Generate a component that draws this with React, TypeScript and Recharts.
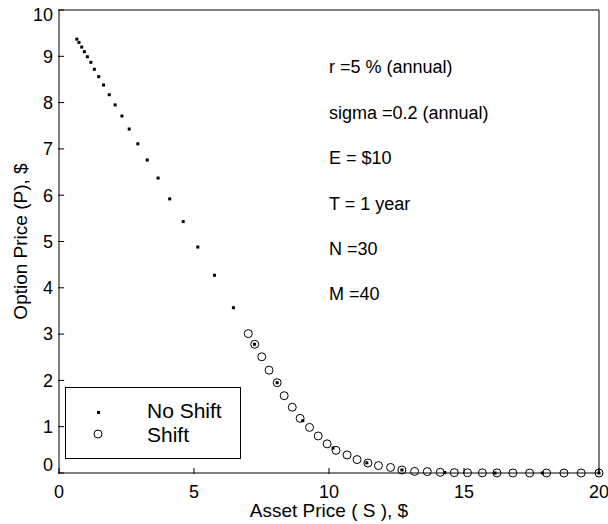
import React from "react";
import {
  Label,
  Legend,
  ReferenceDot,
  ReferenceLine,
  Scatter,
  ScatterChart,
  XAxis,
  YAxis,
} from "recharts";

// grid without shift (log-spaced asset prices)
const noShiftS = [
  0.66, 0.74, 0.84, 0.94, 1.05, 1.18, 1.31, 1.47, 1.65, 1.86, 2.08, 2.33, 2.6,
  2.92, 3.27, 3.67, 4.1, 4.6, 5.14, 5.76, 6.46, 7.24, 8.08, 9.03, 10.15, 11.4,
  12.7, 14.29, 16.15, 17.9, 20.0,
];
const noShiftP = [
  9.37, 9.3, 9.2, 9.1, 8.99, 8.87, 8.72, 8.56, 8.38, 8.17, 7.95, 7.71, 7.43,
  7.11, 6.76, 6.37, 5.92, 5.43, 4.88, 4.27, 3.57, 2.78, 1.95, 1.13, 0.54, 0.22,
  0.065, 0.01, 0, 0, 0,
];

// shifted grid
const shiftS = [
  7.01, 7.25, 7.51, 7.78, 8.08, 8.34, 8.64, 8.93, 9.28, 9.6, 9.93, 10.26, 10.67,
  11.04, 11.44, 11.83, 12.28, 12.7, 13.17, 13.64, 14.12, 14.64, 15.13, 15.68,
  16.22, 16.81, 17.43, 18.06, 18.7, 19.34, 20.0,
];
const shiftP = [
  3.01, 2.78, 2.51, 2.22, 1.95, 1.67, 1.42, 1.18, 0.985, 0.8, 0.63, 0.49, 0.39,
  0.29, 0.215, 0.16, 0.12, 0.065, 0.035, 0.03, 0.015, 0.008, 0.005, 0.003,
  0.002, 0.001, 0, 0, 0, 0, 0,
];

const xTicks = [0, 5, 10, 15, 20];
const yTicks = [0, 1, 2, 3, 4, 5, 6, 7, 8, 9, 10];

const notes = [
  "r =5 % (annual)",
  "sigma =0.2 (annual)",
  "E = $10",
  "T = 1 year",
  "N =30",
  "M =40",
];
const noteY = [8.77, 7.79, 6.8, 5.82, 4.85, 3.87];

const noShiftData = noShiftS.map((s, i) => ({ s, p: noShiftP[i] }));
const shiftData = shiftS.map((s, i) => ({ s, p: shiftP[i] }));

const FONT = "'Liberation Sans', Arial, sans-serif";
const LINE = { stroke: "#000", strokeWidth: 1 };
// inward tick length in axis units (about 5px each way)
const X_TICK_LEN = 0.19;
const Y_TICK_LEN = 0.11;

const Dot = (props: any) => (
  <rect x={props.cx - 1.5} y={props.cy - 1.5} width={3} height={3} fill="#000" />
);

const Ring = (props: any) => (
  <circle cx={props.cx} cy={props.cy} r={4} fill="none" stroke="#000" strokeWidth={1} />
);

const XTick = (props: any) => {
  const { x, y, payload } = props;
  return (
    <text x={x} y={y} dy="0.71em" textAnchor="middle" fontSize={18} fontFamily={FONT} fill="#000">
      {payload.value}
    </text>
  );
};

const YTick = (props: any) => {
  const { x, y, payload } = props;
  // keep the end labels inside the frame
  const shift = payload.value === 10 ? 5 : payload.value === 0 ? -8 : 0;
  return (
    <text x={x} y={y + shift} dy="0.35em" textAnchor="end" fontSize={18} fontFamily={FONT} fill="#000">
      {payload.value}
    </text>
  );
};

const LegendBox = () => (
  <svg width={174} height={70} style={{ display: "block" }}>
    <rect x={31} y={23} width={3} height={3} fill="#000" />
    <circle cx={32} cy={46} r={4} fill="none" stroke="#000" />
    <text x={81} y={23} dy="0.35em" fontSize={21} fontFamily={FONT} fill="#000">
      No Shift
    </text>
    <text x={81} y={47} dy="0.35em" fontSize={21} fontFamily={FONT} fill="#000">
      Shift
    </text>
  </svg>
);

export default function App() {
  return (
    <div style={{ position: "absolute", left: 0, top: 0 }}>
      <ScatterChart
        width={608}
        height={524}
        margin={{ top: 10, right: 9, bottom: 0, left: 0 }}
      >
        <XAxis
          dataKey="s"
          type="number"
          domain={[0, 20]}
          ticks={xTicks}
          height={51}
          tickSize={1}
          tickMargin={11}
          tick={<XTick />}
          axisLine={LINE}
          tickLine={LINE}
        >
          <Label value="Asset Price ( S ), $" position="insideBottom" offset={7} fontSize={19} fontFamily={FONT} fill="#000" />
        </XAxis>
        <XAxis
          xAxisId="top"
          orientation="top"
          type="number"
          domain={[0, 20]}
          ticks={xTicks}
          height={1}
          mirror
          tickSize={5}
          tick={false}
          axisLine={LINE}
          tickLine={LINE}
        />
        <YAxis
          dataKey="p"
          type="number"
          domain={[0, 10]}
          ticks={yTicks}
          width={59}
          tickSize={1}
          tickMargin={5}
          tick={<YTick />}
          axisLine={LINE}
          tickLine={LINE}
        >
          <Label
            content={(p: any) => {
              const vb = p.viewBox;
              const cx = vb.x + 27;
              const cy = vb.y + vb.height / 2;
              return (
                <text x={cx} y={cy} transform={`rotate(-90 ${cx} ${cy})`} textAnchor="middle" fontSize={19} fontFamily={FONT} fill="#000">
                  Option Price (P), $
                </text>
              );
            }}
          />
        </YAxis>
        <YAxis
          yAxisId="right"
          orientation="right"
          type="number"
          domain={[0, 10]}
          ticks={yTicks}
          width={1}
          mirror
          tickSize={5}
          tick={false}
          axisLine={LINE}
          tickLine={LINE}
        />
        {xTicks.map((v) => (
          <ReferenceLine
            key={`xt${v}`}
            segment={[
              { x: v, y: 0 },
              { x: v, y: Y_TICK_LEN },
            ]}
            stroke="#000"
          />
        ))}
        {yTicks.map((v) => (
          <ReferenceLine
            key={`yt${v}`}
            segment={[
              { x: 0, y: v },
              { x: X_TICK_LEN, y: v },
            ]}
            stroke="#000"
          />
        ))}
        <Scatter name="Shift" data={shiftData} shape={<Ring />} isAnimationActive={false} />
        <Scatter name="No Shift" data={noShiftData} shape={<Dot />} isAnimationActive={false} />
        {notes.map((t, i) => (
          <ReferenceDot
            key={t}
            x={10}
            y={noteY[i]}
            r={0}
            shape={(p: any) => (
              <text x={p.cx} y={p.cy} dy="0.35em" fontSize={18} fontFamily={FONT} fill="#000">
                {t}
              </text>
            )}
          />
        ))}
        <Legend
          layout="horizontal"
          verticalAlign="middle"
          align="center"
          content={<LegendBox />}
          wrapperStyle={{
            position: "absolute",
            left: 65,
            top: 387,
            width: 176,
            height: 72,
            border: "1px solid #000",
            boxSizing: "border-box",
            background: "#fff",
          }}
        />
      </ScatterChart>
    </div>
  );
}
